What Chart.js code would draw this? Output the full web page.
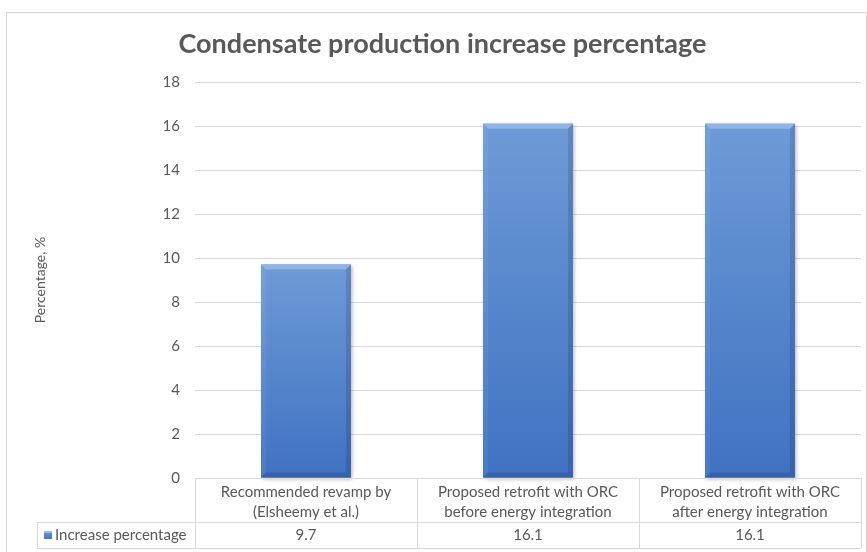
<!DOCTYPE html>
<html lang="en">
<head>
  <meta charset="UTF-8">
  <title>Condensate production increase percentage</title>
  <script src="https://cdn.jsdelivr.net/npm/chart.js"></script>
  <style>
    body {
      margin: 0;
      padding: 0;
      background: #ffffff;
    }
    .wrap {
      position: relative;
      width: 867px;
      height: 552px;
    }
  </style>
</head>
<body>
  <div class="wrap">
    <canvas id="chart" width="867" height="552"></canvas>
  </div>

  <script>
    const categories = [
      ["Recommended revamp by", "(Elsheemy et al.)"],
      ["Proposed retrofit with ORC", "before energy integration"],
      ["Proposed retrofit with ORC", "after energy integration"]
    ];
    const seriesName = "Increase percentage";
    const increaseValues = [9.7, 16.1, 16.1];
    const yTicks = [0, 2, 4, 6, 8, 10, 12, 14, 16, 18];

    const textColor = "#595959";
    const lineColor = "#d9d9d9";
    const fontFamily = "Lato, 'Open Sans', sans-serif";

    function barGradient(c, top, bottom) {
      const g = c.createLinearGradient(0, top, 0, bottom);
      g.addColorStop(0, "#6e9bd7");
      g.addColorStop(0.5, "#5686cb");
      g.addColorStop(1, "#4072c2");
      return g;
    }

    // soft shadow behind the bars, then bevel edges on top of them
    const bevelBars = {
      id: "bevelBars",
      beforeDatasetsDraw(chart) {
        const c = chart.ctx;
        const meta = chart.getDatasetMeta(0);
        c.save();
        c.shadowColor = "rgba(0,0,0,0.3)";
        c.shadowBlur = 4;
        c.shadowOffsetX = 1.5;
        c.shadowOffsetY = 1.5;
        c.fillStyle = "#4a7bc6";
        meta.data.forEach(bar => {
          const w = bar.width;
          c.fillRect(bar.x - w / 2, bar.y, w, bar.base - bar.y);
        });
        c.restore();
      },
      afterDatasetsDraw(chart) {
        const c = chart.ctx;
        const meta = chart.getDatasetMeta(0);
        const e = 5;
        meta.data.forEach(bar => {
          const l = bar.x - bar.width / 2, r = bar.x + bar.width / 2;
          const t = bar.y, b = bar.base;
          c.save();
          // top
          c.fillStyle = "rgba(255,255,255,0.25)";
          c.beginPath();
          c.moveTo(l, t); c.lineTo(r, t); c.lineTo(r - e, t + e); c.lineTo(l + e, t + e);
          c.closePath(); c.fill();
          // left
          c.fillStyle = "rgba(255,255,255,0.06)";
          c.beginPath();
          c.moveTo(l, t); c.lineTo(l + e, t + e); c.lineTo(l + e, b - e); c.lineTo(l, b);
          c.closePath(); c.fill();
          // right
          c.fillStyle = "rgba(0,0,40,0.13)";
          c.beginPath();
          c.moveTo(r, t); c.lineTo(r - e, t + e); c.lineTo(r - e, b - e); c.lineTo(r, b);
          c.closePath(); c.fill();
          // bottom
          c.fillStyle = "rgba(0,0,40,0.15)";
          c.beginPath();
          c.moveTo(l, b); c.lineTo(l + e, b - e); c.lineTo(r - e, b - e); c.lineTo(r, b);
          c.closePath(); c.fill();
          c.restore();
        });
      }
    };

    // data table under the plot, plus the outer frame
    const dataTable = {
      id: "dataTable",
      afterDraw(chart) {
        const c = chart.ctx;
        const area = chart.chartArea;
        const xs = chart.scales.x;
        const n = categories.length;
        const colW = (area.right - area.left) / n;
        const top = area.bottom;
        const mid = top + 44;
        const bot = top + 70;
        const legendLeft = 37;

        c.save();
        c.strokeStyle = lineColor;
        c.lineWidth = 1;

        // frame
        c.strokeRect(6.5, 12.5, 860, 545);

        c.beginPath();
        c.moveTo(area.left, top + 0.5); c.lineTo(area.right, top + 0.5);
        c.moveTo(legendLeft, mid + 0.5); c.lineTo(area.right, mid + 0.5);
        c.moveTo(legendLeft, bot + 0.5); c.lineTo(area.right, bot + 0.5);
        c.moveTo(legendLeft + 0.5, mid); c.lineTo(legendLeft + 0.5, bot);
        for (let i = 0; i <= n; i++) {
          const px = Math.round(xs.getPixelForValue(0) - colW / 2 + i * colW) + 0.5;
          c.moveTo(px, top); c.lineTo(px, bot);
        }
        c.stroke();

        c.fillStyle = textColor;
        c.font = "15px " + fontFamily;
        c.textAlign = "center";
        c.textBaseline = "middle";
        categories.forEach((lines, i) => {
          const cx = xs.getPixelForValue(i);
          lines.forEach((line, k) => {
            c.fillText(line, cx, top + 14 + k * 20);
          });
          c.fillText(String(increaseValues[i]), cx, mid + 13);
        });

        // legend key and series name
        const kx = legendLeft + 7, ky = mid + 9;
        c.fillStyle = barGradient(c, ky, ky + 8);
        c.fillRect(kx, ky, 8, 8);
        c.fillStyle = "rgba(255,255,255,0.35)";
        c.fillRect(kx, ky, 8, 2);
        c.fillStyle = textColor;
        c.textAlign = "left";
        c.fillText(seriesName, kx + 11, mid + 13);
        c.restore();
      }
    };

    new Chart(document.getElementById("chart"), {
      type: "bar",
      data: {
        labels: categories,
        datasets: [{
          label: seriesName,
          data: increaseValues,
          backgroundColor: ctx => {
            const chart = ctx.chart;
            const area = chart.chartArea;
            if (!area) return "#5686cb";
            const top = chart.scales.y.getPixelForValue(ctx.raw);
            return barGradient(chart.ctx, top, area.bottom);
          },
          borderWidth: 0,
          barPercentage: 0.405,
          categoryPercentage: 1.0
        }]
      },
      options: {
        responsive: false,
        animation: false,
        layout: {
          padding: { left: 24, right: 6, top: 0, bottom: 0 }
        },
        plugins: {
          legend: { display: false },
          tooltip: { enabled: false },
          title: {
            display: true,
            text: "Condensate production increase percentage",
            color: textColor,
            font: { family: fontFamily, size: 27, weight: "bold" },
            padding: { top: 28, bottom: 21.6 }
          }
        },
        scales: {
          x: {
            display: true,
            grid: { display: false, drawTicks: false },
            border: { display: false },
            ticks: { display: false },
            afterFit: scale => { scale.height = 74; }
          },
          y: {
            min: yTicks[0],
            max: yTicks[yTicks.length - 1],
            afterBuildTicks: scale => {
              scale.ticks = yTicks.map(v => ({ value: v }));
            },
            afterFit: scale => { scale.width = 171; },
            grid: { color: lineColor, drawTicks: false },
            border: { display: false },
            ticks: {
              color: textColor,
              padding: 15,
              font: { family: fontFamily, size: 15 }
            },
            title: {
              display: true,
              text: "Percentage, %",
              color: textColor,
              font: { family: fontFamily, size: 14 },
              padding: { top: 8 }
            }
          }
        }
      },
      plugins: [bevelBars, dataTable]
    });
  </script>
</body>
</html>
